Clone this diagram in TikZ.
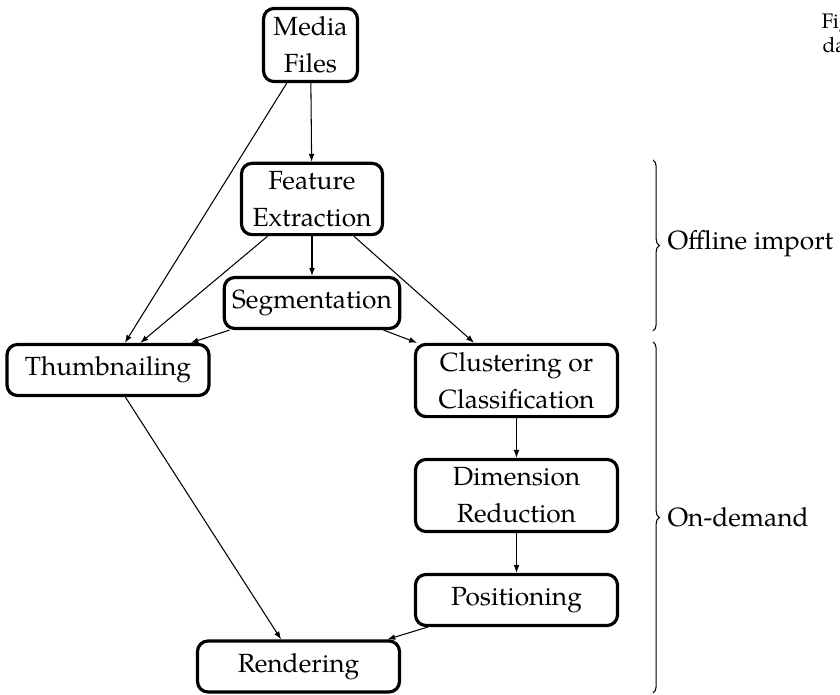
\documentclass[tikz,border=0pt]{standalone}
\usepackage{fontspec}
\setmainfont{TeX Gyre Pagella}
\usetikzlibrary{arrows.meta,decorations.pathreplacing}
\begin{document}
\begin{tikzpicture}[x=0.3802pt,y=-0.3802pt,
  box/.style={draw, line width=1.2pt, rounded corners=4pt, align=center,
    inner sep=3pt, font=\fontsize{10}{14}\selectfont},
  conn/.style={line width=0.4pt, -{Latex[length=3pt,width=2.2pt]}},
  bracedeco/.style={decorate, decoration={brace, amplitude=2.4pt}, line width=0.4pt},
  lbl/.style={anchor=base west, inner sep=0pt, font=\fontsize{10}{14}\selectfont},
  captext/.style={anchor=base west, inner sep=0pt, font=\fontsize{8}{9.2}\selectfont}]
\useasboundingbox (0,0) rectangle (840,695);

\node[box, minimum width=35.7pt, minimum height=27.8pt] (mf)  at (310.5,45)  {Media\\Files};
\node[box, minimum width=53.6pt, minimum height=27pt]   (fe)  at (312,199)   {Feature\\Extraction};
\node[box, minimum width=66.5pt, minimum height=19.4pt] (seg) at (312,303)   {Segmentation};
\node[box, minimum width=76.8pt, minimum height=19.4pt] (th)  at (108,370)   {Thumbnailing};
\node[box, minimum width=76.8pt, minimum height=27.4pt] (cl)  at (516.5,380.5) {Clustering or\\Classification};
\node[box, minimum width=76.8pt, minimum height=27.4pt] (dr)  at (516.5,495.5) {Dimension\\Reduction};
\node[box, minimum width=76.8pt, minimum height=19.4pt] (pos) at (516.5,600) {Positioning};
\node[box, minimum width=76.8pt, minimum height=19.4pt] (ren) at (298.5,666.5) {Rendering};

\draw[conn] (mf) -- (fe);
\draw[conn] (mf) -- (th);
\draw[conn] (fe) -- (th);
\draw[conn] (fe) -- (seg);
\draw[conn] (fe) -- (cl);
\draw[conn] (seg) -- (th);
\draw[conn] (seg) -- (cl);
\draw[conn] (cl) -- (dr);
\draw[conn] (dr) -- (pos);
\draw[conn] (th) -- (ren);
\draw[conn] (pos) -- (ren);

\coordinate (b1t) at (653,160);
\coordinate (b1b) at (653,331);
\coordinate (b2t) at (653,342);
\coordinate (b2b) at (653,693);
\draw[bracedeco] (b1t) -- (b1b);
\draw[bracedeco] (b2t) -- (b2b);
\node[lbl] (off) at (667,250) {Offline import};
\node[lbl] (ond) at (667,527) {On-demand};

\node[captext] (cap1) at (821,29) {Fig};
\node[captext] (cap2) at (822,53) {da};
\end{tikzpicture}
\end{document}
